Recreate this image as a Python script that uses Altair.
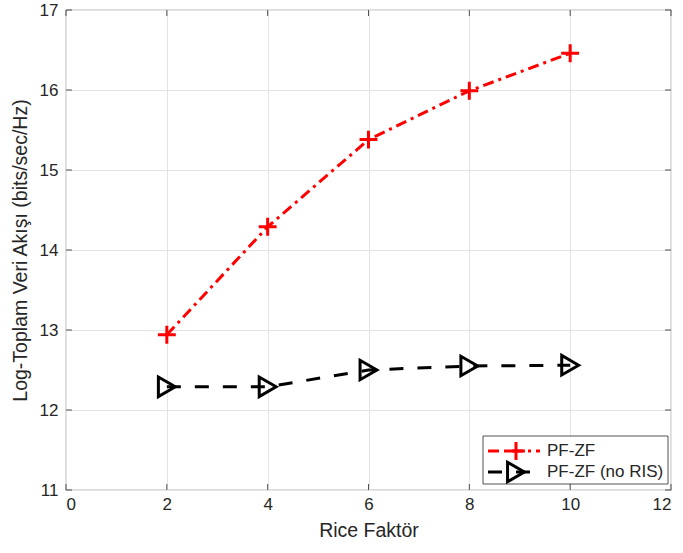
import altair as alt
import pandas as pd

rice = [2, 4, 6, 8, 10]
pf_zf = [12.94, 14.29, 15.38, 15.99, 16.46]
pf_zf_noris = [12.29, 12.29, 12.50, 12.55, 12.56]
x_ticks = [0, 2, 4, 6, 8, 10, 12]
y_ticks = [11, 12, 13, 14, 15, 16, 17]
labels = ["PF-ZF", "PF-ZF (no RIS)"]

W, H = 605, 480
FONT = "Liberation Sans"
AX = "#262626"

df1 = pd.DataFrame({"x": rice, "y": pf_zf})
df2 = pd.DataFrame({"x": rice, "y": pf_zf_noris})

xs = alt.Scale(domain=[0, 12], nice=False, zero=False)
ys = alt.Scale(domain=[11, 17], nice=False, zero=False)

xenc = alt.X("x:Q", scale=xs, axis=alt.Axis(
    values=x_ticks, format="d", title="Rice Faktör", grid=True, gridColor="#e4e4e4",
    domain=False, ticks=False, labelFont=FONT, labelFontSize=17, labelColor=AX,
    labelPadding=6, titleFont=FONT, titleFontSize=19.5, titleFontWeight="normal",
    titleColor=AX, titlePadding=9))
yenc = alt.Y("y:Q", scale=ys, axis=alt.Axis(
    values=y_ticks, format="d", title="Log-Toplam Veri Akışı (bits/sec/Hz)", grid=True,
    gridColor="#e4e4e4", domain=False, ticks=False, labelFont=FONT,
    labelFontSize=17, labelColor=AX, labelPadding=8, titleFont=FONT,
    titleFontSize=19.5, titleFontWeight="normal", titleColor=AX, titlePadding=9))

plus_path = "M-1,0H1M0,-1V1"

red_line = alt.Chart(df1).mark_line(color="#ff0000", strokeWidth=3,
                                     strokeDash=[11, 5, 3, 5]).encode(x=xenc, y=yenc)
red_pts = alt.Chart(df1).mark_point(shape=plus_path, filled=False, color="#ff0000",
                                    strokeWidth=3, size=320, opacity=1).encode(
    x=alt.X("x:Q", scale=xs), y=alt.Y("y:Q", scale=ys))
blk_line = alt.Chart(df2).mark_line(color="#000000", strokeWidth=3,
                                     strokeDash=[14, 14]).encode(
    x=alt.X("x:Q", scale=xs), y=alt.Y("y:Q", scale=ys))
blk_pts = alt.Chart(df2).mark_point(shape="triangle-right", filled=False,
                                    color="#000000", strokeWidth=3, size=380,
                                    opacity=1).encode(
    x=alt.X("x:Q", scale=xs), y=alt.Y("y:Q", scale=ys))

# inward ticks (MATLAB style)
xt = pd.DataFrame({"x": x_ticks})
yt = pd.DataFrame({"y": y_ticks})
tick_style = dict(color=AX, strokeWidth=0.8)
xb = alt.Chart(xt).mark_rule(**tick_style).encode(
    x=alt.X("x:Q", scale=xs), y=alt.value(H), y2=alt.value(H - 6))
xtop = alt.Chart(xt).mark_rule(**tick_style).encode(
    x=alt.X("x:Q", scale=xs), y=alt.value(0), y2=alt.value(6))
yl = alt.Chart(yt).mark_rule(**tick_style).encode(
    y=alt.Y("y:Q", scale=ys), x=alt.value(0), x2=alt.value(6))
yr = alt.Chart(yt).mark_rule(**tick_style).encode(
    y=alt.Y("y:Q", scale=ys), x=alt.value(W), x2=alt.value(W - 6))

# legend box
lx0, lx1, ly0, ly1 = 417, 602, 426, 474
leg_df = pd.DataFrame({"label": labels})
leg_box = alt.Chart(leg_df.head(1)).mark_rect(fill="white", stroke="#262626",
                                              strokeWidth=0.8).encode(
    x=alt.value(lx0), x2=alt.value(lx1), y=alt.value(ly0), y2=alt.value(ly1))
r1 = 441
r2 = 462
leg_red_line = alt.Chart(leg_df.head(1)).mark_rule(color="#ff0000", strokeWidth=3,
                                                   strokeDash=[11, 5, 3, 5]).encode(
    x=alt.value(422), x2=alt.value(474), y=alt.value(r1))
leg_red_pt = alt.Chart(leg_df.head(1)).mark_point(shape=plus_path, filled=False,
                                                  color="#ff0000", strokeWidth=3,
                                                  size=320, opacity=1).encode(
    x=alt.value(450), y=alt.value(r1))
leg_blk_line = alt.Chart(leg_df.head(1)).mark_rule(color="#000000", strokeWidth=3,
                                                   strokeDash=[14, 14]).encode(
    x=alt.value(422), x2=alt.value(474), y=alt.value(r2))
leg_blk_pt = alt.Chart(leg_df.head(1)).mark_point(shape="triangle-right", filled=False,
                                                  color="#000000", strokeWidth=3,
                                                  size=380, opacity=1).encode(
    x=alt.value(450), y=alt.value(r2))
leg_t1 = alt.Chart(pd.DataFrame({"label": [labels[0]]})).mark_text(
    align="left", baseline="middle", font=FONT, fontSize=17, color=AX).encode(
    text="label:N", x=alt.value(481), y=alt.value(r1))
leg_t2 = alt.Chart(pd.DataFrame({"label": [labels[1]]})).mark_text(
    align="left", baseline="middle", font=FONT, fontSize=17, color=AX).encode(
    text="label:N", x=alt.value(481), y=alt.value(r2))

chart = alt.layer(
    red_line, blk_line, red_pts, blk_pts, xb, xtop, yl, yr,
    leg_box, leg_red_line, leg_blk_line, leg_red_pt, leg_blk_pt, leg_t1, leg_t2
).properties(
    width=W, height=H,
    autosize=alt.AutoSizeParams(type="none"),
    padding={"left": 66, "top": 10, "right": 12, "bottom": 63},
    background="white",
).configure_view(stroke=AX, strokeWidth=0.8)

chart.save("out.html", embed_options={"renderer": "svg", "actions": False})
